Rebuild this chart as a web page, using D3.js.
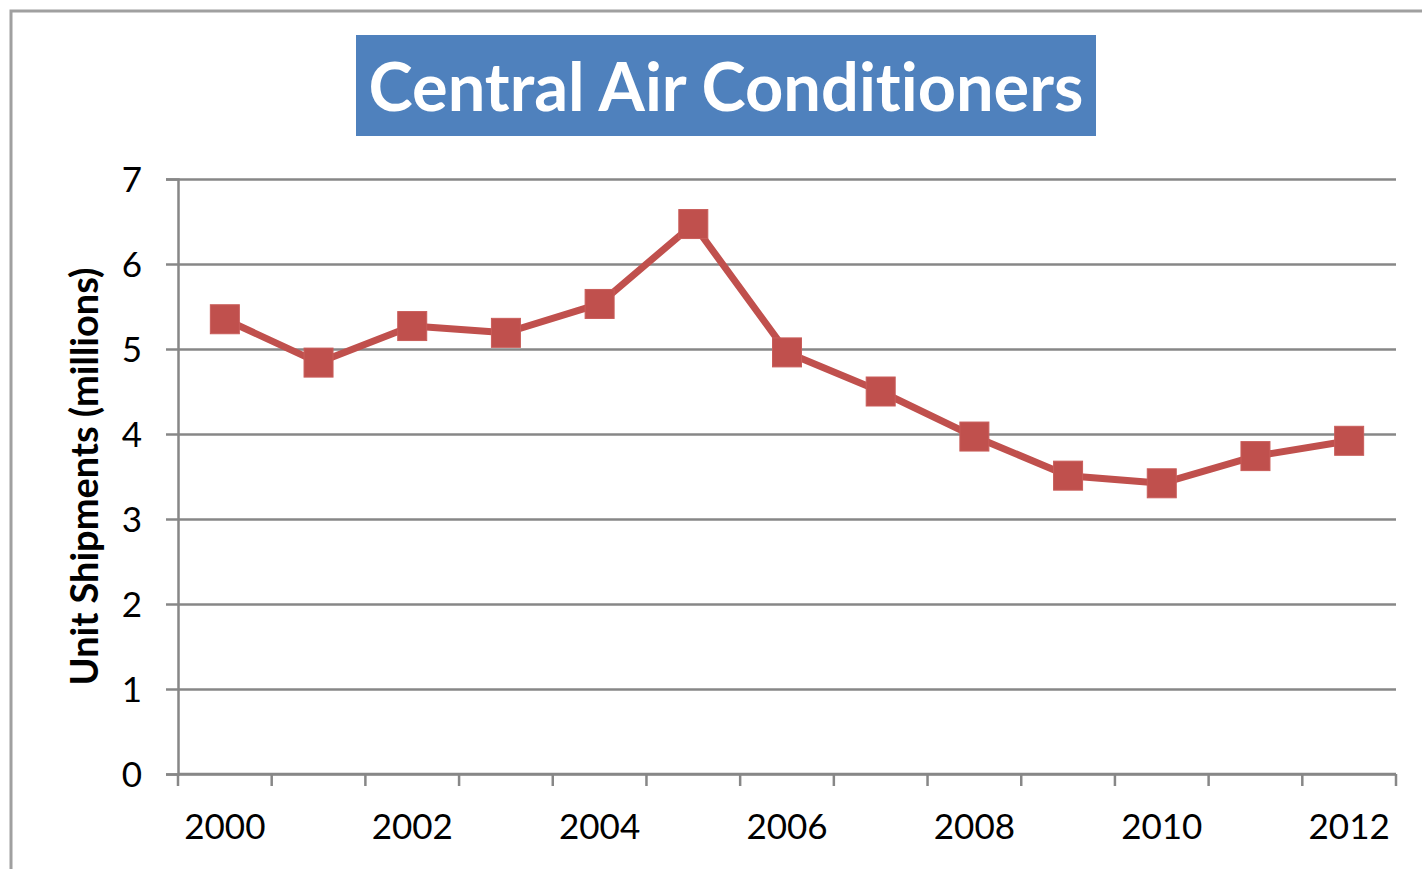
<!DOCTYPE html>
<html>
<head>
<meta charset="utf-8">
<script src="https://cdn.jsdelivr.net/npm/d3@7"></script>
<style>
  html, body { margin: 0; padding: 0; background: #ffffff; }
  svg { display: block; }
  text { font-variant-ligatures: none; font-feature-settings: "liga" 0, "clig" 0; }
</style>
</head>
<body>
<svg id="chart" width="1422" height="869"></svg>
<script>
const years = ["2000","2001","2002","2003","2004","2005","2006","2007","2008","2009","2010","2011","2012"];
const shipments = [5.35, 4.84, 5.27, 5.19, 5.53, 6.47, 4.96, 4.50, 3.97, 3.51, 3.42, 3.74, 3.92];
const yTicks = [0, 1, 2, 3, 4, 5, 6, 7];
const xLabelYears = ["2000","2002","2004","2006","2008","2010","2012"];
const titleText = "Central Air Conditioners";
const yAxisTitle = "Unit Shipments (millions)";

const svg = d3.select("#chart");
const FONT = "Lato, 'Open Sans', sans-serif";
const plot = { left: 178, right: 1396, top: 179, bottom: 774 };

// outer frame
svg.append("rect")
  .attr("x", 11).attr("y", 11)
  .attr("width", 1440).attr("height", 900)
  .attr("fill", "none").attr("stroke", "#a0a0a0").attr("stroke-width", 3);

const x = d3.scaleBand().domain(years).range([plot.left, plot.right]).paddingInner(0).paddingOuter(0);
const y = d3.scaleLinear().domain([0, 7]).range([plot.bottom, plot.top]);

const gridColor = "#878787";

// y axis with gridlines
const yAxis = svg.append("g")
  .attr("transform", `translate(${plot.left},0)`)
  .call(d3.axisLeft(y).tickValues(yTicks).tickSize(12).tickFormat(d3.format("d")));
yAxis.select(".domain").attr("stroke", gridColor).attr("stroke-width", 2.5);
yAxis.selectAll(".tick line").attr("stroke", gridColor).attr("stroke-width", 2.5);
yAxis.selectAll(".tick").append("line")
  .attr("x1", 0).attr("x2", plot.right - plot.left)
  .attr("stroke", gridColor).attr("stroke-width", 2.5);
yAxis.selectAll(".tick text")
  .attr("x", -36).attr("dy", "0.36em")
  .attr("fill", "#000").style("font-family", FONT).style("font-size", "35px");

// x axis: ticks at band boundaries
const boundaries = years.map(d => x(d)).concat([plot.right]);
const xg = svg.append("g");
xg.append("line")
  .attr("x1", plot.left).attr("x2", plot.right)
  .attr("y1", plot.bottom).attr("y2", plot.bottom)
  .attr("stroke", gridColor).attr("stroke-width", 2.5);
xg.selectAll("line.xt").data(boundaries).enter().append("line")
  .attr("class", "xt")
  .attr("x1", d => d).attr("x2", d => d)
  .attr("y1", plot.bottom).attr("y2", plot.bottom + 12)
  .attr("stroke", gridColor).attr("stroke-width", 2.5);
xg.selectAll("text").data(xLabelYears).enter().append("text")
  .attr("x", d => x(d) + x.bandwidth() / 2)
  .attr("y", 839)
  .attr("text-anchor", "middle")
  .attr("fill", "#000")
  .style("font-family", FONT).style("font-size", "35px")
  .text(d => d);

// y axis title
const yt = svg.append("text")
  .attr("transform", `translate(98, ${(plot.top + plot.bottom) / 2}) rotate(-90)`)
  .attr("text-anchor", "middle")
  .attr("fill", "#000")
  .style("font-family", FONT).style("font-weight", "bold").style("font-size", "33px")
  .text(yAxisTitle);
{
  const w = yt.node().getComputedTextLength();
  const fs = 33 * 418 / w;
  yt.style("font-size", fs + "px");
}

// series line
const lineColor = "#c0504d";
const line = d3.line().x((d, i) => x(years[i]) + x.bandwidth() / 2).y(d => y(d));
svg.append("path")
  .datum(shipments)
  .attr("d", line)
  .attr("fill", "none").attr("stroke", lineColor)
  .attr("stroke-width", 7).attr("stroke-linejoin", "round");

const ms = 29;
svg.selectAll("rect.mk").data(shipments).enter().append("rect")
  .attr("class", "mk")
  .attr("x", (d, i) => x(years[i]) + x.bandwidth() / 2 - ms / 2)
  .attr("y", d => y(d) - ms / 2)
  .attr("width", ms).attr("height", ms)
  .attr("fill", lineColor)
  .attr("stroke", "#c95d5a").attr("stroke-width", 1);

// title box
svg.append("rect")
  .attr("x", 356).attr("y", 35).attr("width", 740).attr("height", 101)
  .attr("fill", "#4f81bd");
const tt = svg.append("text")
  .attr("x", 726).attr("y", 111)
  .attr("text-anchor", "middle")
  .attr("fill", "#ffffff")
  .style("font-family", FONT).style("font-weight", "bold").style("font-size", "62px")
  .text(titleText);
{
  const w = tt.node().getComputedTextLength();
  const fs = 62 * 715 / w;
  tt.style("font-size", fs + "px");
}
</script>
</body>
</html>
